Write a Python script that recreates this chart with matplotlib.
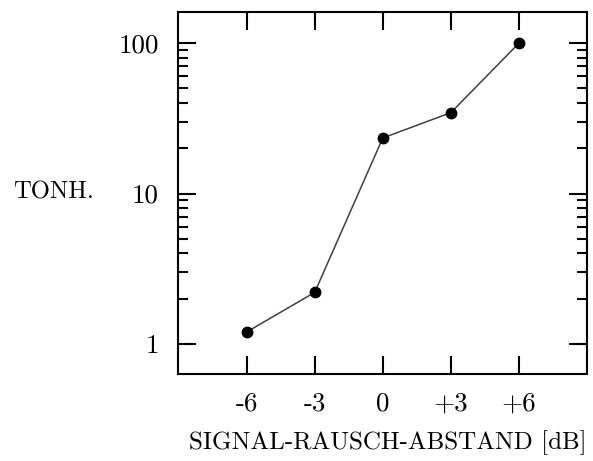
import numpy as np
import matplotlib
matplotlib.use("Agg")
import matplotlib.pyplot as plt
from matplotlib.ticker import FixedLocator, NullFormatter

# data
snr = [-6, -3, 0, 3, 6]
tonh = [1.2, 2.2, 23.4, 34.5, 100]
xtick_labels = ["-6", "-3", "0", "+3", "+6"]
ytick_vals = [1, 10, 100]
ytick_labels = ["1", "10", "100"]

plt.rcParams['font.family'] = ['cmr10', 'DejaVu Serif']

fig = plt.figure(figsize=(5.93, 4.61), dpi=100)
ax = fig.add_axes([0.301, 0.1887, 0.689, 0.7853])

ax.plot(snr, tonh, color='0.25', lw=1.1, zorder=2)
ax.plot(snr, tonh, 'o', color='black', markersize=7.5, zorder=3)

ax.set_yscale('log')
ax.set_xlim(-9, 9)
ax.set_ylim(10 ** -0.2, 10 ** 2.207)

ax.set_xticks(snr)
ax.set_xticklabels(xtick_labels)
ax.yaxis.set_major_locator(FixedLocator(ytick_vals))
ax.set_yticklabels(ytick_labels)
minors = [m * d for d in [1, 10] for m in range(2, 10)]
ax.yaxis.set_minor_locator(FixedLocator(minors))
ax.yaxis.set_minor_formatter(NullFormatter())

ax.tick_params(axis='both', which='major', direction='in', length=13, width=1.5,
               labelsize=19.5, top=True, right=True)
ax.tick_params(axis='y', which='minor', direction='in', length=7, width=1.5,
               right=True)
ax.tick_params(axis='x', pad=13)
ax.tick_params(axis='y', pad=14)
for s in ax.spines.values():
    s.set_linewidth(1.5)

ax.set_xlabel("SIGNAL-RAUSCH-ABSTAND [dB]", fontsize=18)
ax.xaxis.set_label_coords(0.512, -0.155)
fig.text(0.022, 0.582, "TONH.", fontsize=17.8, ha='left', va='center')

fig.savefig("out.png", dpi=100)
